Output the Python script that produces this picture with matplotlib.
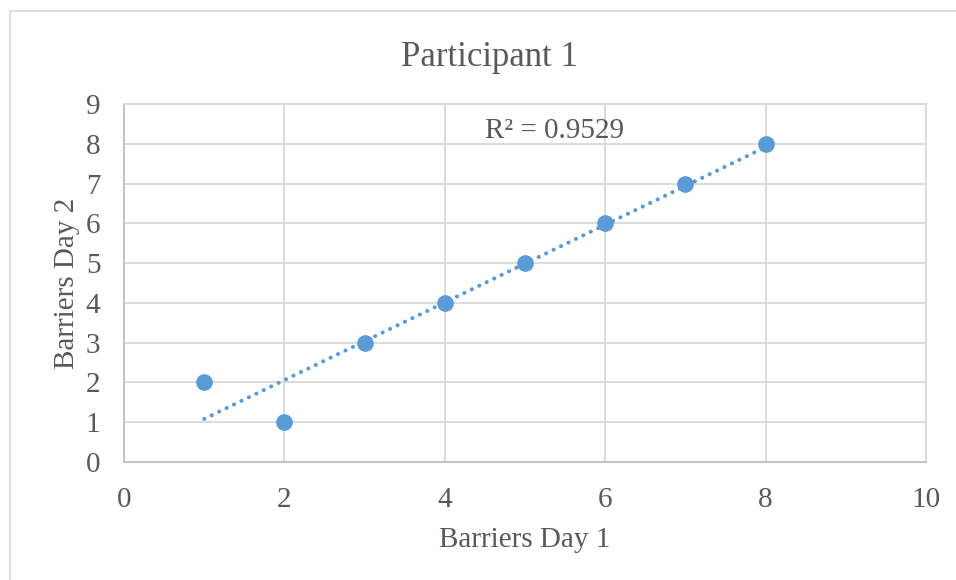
import numpy as np
import matplotlib.pyplot as plt
from matplotlib.patches import Rectangle

# dados do gráfico
barreiras_dia1 = [1, 2, 3, 4, 5, 6, 7, 8]
barreiras_dia2 = [2, 1, 3, 4, 5, 6, 7, 8]
xticks = [0, 2, 4, 6, 8, 10]
yticks = [0, 1, 2, 3, 4, 5, 6, 7, 8, 9]

azul = "#5b9bd5"
cinza_texto = "#595959"

plt.rcParams["font.family"] = ["Liberation Serif", "DejaVu Serif"]

W, H = 956, 580
fig = plt.figure(figsize=(W / 100, H / 100), dpi=100)
# borda da área do gráfico (estilo Excel)
fig.patches.append(Rectangle((10 / W, -0.1), 1.2, 1.1 - 11 / H,
                             transform=fig.transFigure, fill=False,
                             edgecolor="#d9d9d9", linewidth=1.2))

ax = fig.add_axes([124 / W, 1 - 462 / H, (926 - 124) / W, (462 - 104) / H])

ax.set_xlim(0, 10)
ax.set_ylim(0, 9)
ax.set_xticks(xticks)
ax.set_yticks(yticks)
ax.grid(True, color="#d9d9d9", linewidth=1.3)
ax.set_axisbelow(True)
for lado in ["top", "right"]:
    ax.spines[lado].set_color("#d9d9d9")
    ax.spines[lado].set_linewidth(1.3)
for lado in ["left", "bottom"]:
    ax.spines[lado].set_color("#bfbfbf")
    ax.spines[lado].set_linewidth(1.3)
ax.tick_params(length=0, labelsize=21, labelcolor=cinza_texto)
ax.tick_params(axis="x", pad=18)
ax.tick_params(axis="y", pad=17)

# linha de tendência linear
x = np.array(barreiras_dia1, dtype=float)
y = np.array(barreiras_dia2, dtype=float)
coef = np.polyfit(x, y, 1)
r2 = np.corrcoef(x, y)[0, 1] ** 2
xs = np.array([x.min(), x.max()])
ax.plot(xs, np.polyval(coef, xs), color=azul, linewidth=2.9,
        linestyle=(0, (0.05, 2.0)), dash_capstyle="round", zorder=2)

ax.plot(x, y, "o", color=azul, markersize=11, zorder=3)

ax.text(4.5, 8.32, f"R² = {r2:.4f}", fontsize=21, color=cinza_texto, ha="left", va="center")

fig.text(489 / W, 1 - 57 / H, "Participant 1", fontsize=25, color=cinza_texto,
         ha="center", va="center")
fig.text(525 / W, 1 - 540 / H, "Barriers Day 1", fontsize=21, color=cinza_texto,
         ha="center", va="center")
fig.text(67 / W, 1 - 283 / H, "Barriers Day 2", fontsize=21, color=cinza_texto,
         ha="center", va="center", rotation=90)

fig.savefig("out.png", dpi=100)
